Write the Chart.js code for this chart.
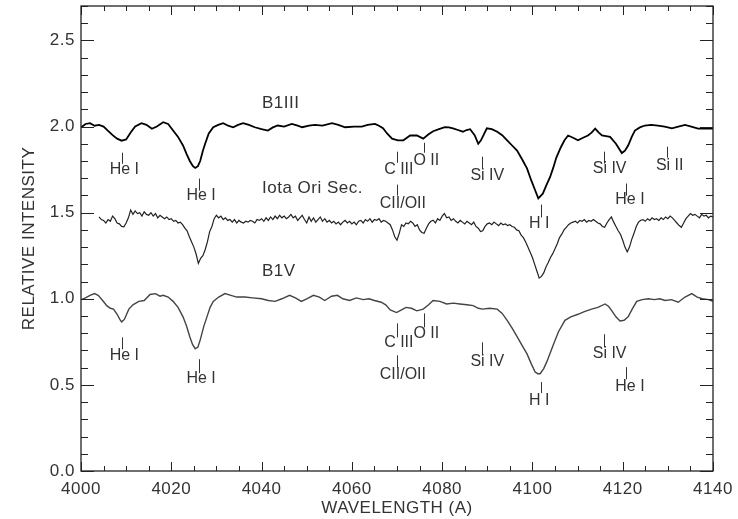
<!DOCTYPE html>
<html><head><meta charset="utf-8">
<script src="https://cdn.jsdelivr.net/npm/chart.js@4.4.0/dist/chart.umd.min.js"></script>
<style>html,body{margin:0;padding:0;background:#fff;}#wrap{width:738px;height:519px;}</style>
</head><body><div id="wrap"><canvas id="c" width="738" height="519"></canvas></div>
<script>
// ---- tick labels ----
const xTickValues = [4000, 4020, 4040, 4060, 4080, 4100, 4120, 4140];
const yTickValues = [0.0, 0.5, 1.0, 1.5, 2.0, 2.5];
const xTitle = 'WAVELENGTH (A)';
const yTitle = 'RELATIVE INTENSITY';

// ---- B1III spectrum ----
const b1iiiWave = [4000.0,4001.0,4002.0,4003.0,4004.0,4005.0,4006.0,4007.0,4008.0,4009.0,4010.0,4011.0,4012.0,4013.4,4014.5,4015.7,4016.8,4018.2,4019.3,4020.4,4021.5,4022.6,4023.4,4024.1,4024.8,4025.3,4025.9,4026.4,4027.0,4027.5,4028.3,4029.3,4030.4,4031.5,4032.6,4033.7,4034.8,4035.9,4037.2,4038.5,4040.0,4041.4,4042.5,4043.6,4045.0,4046.7,4048.0,4049.0,4050.5,4051.8,4053.5,4055.6,4057.0,4058.5,4060.5,4062.2,4063.5,4065.1,4066.0,4066.9,4067.8,4068.9,4070.2,4071.4,4072.2,4072.9,4074.4,4075.8,4077.0,4078.0,4079.3,4080.6,4081.5,4082.4,4083.5,4084.6,4085.4,4086.2,4087.2,4088.0,4088.6,4089.9,4091.0,4092.2,4093.3,4094.4,4095.5,4096.6,4097.7,4098.8,4099.7,4100.6,4101.3,4102.3,4103.1,4103.9,4104.6,4105.3,4106.3,4107.1,4107.9,4109.0,4110.1,4111.2,4112.3,4113.1,4113.9,4114.7,4115.4,4116.3,4117.2,4118.5,4119.8,4120.5,4121.2,4122.0,4122.7,4123.8,4124.9,4126.3,4127.8,4129.3,4130.9,4132.3,4133.8,4135.2,4136.7,4138.2,4140.0];
const b1iiiFlux = [1.995,2.015,2.02,2.005,2.01,2.0,1.975,1.95,1.93,1.918,1.925,1.965,2.0,2.02,2.01,1.987,2.0,2.025,2.015,1.977,1.94,1.89,1.84,1.80,1.77,1.76,1.77,1.80,1.86,1.90,1.96,1.996,2.01,2.02,2.005,1.996,2.01,2.02,2.01,1.996,1.985,1.977,1.995,2.006,2.0,2.015,2.005,1.996,2.005,2.01,2.005,2.02,2.01,1.996,2.0,2.0,2.01,2.015,2.005,1.99,1.96,1.93,1.92,1.92,1.935,1.948,1.948,1.93,1.955,1.973,1.985,1.996,1.995,1.99,1.98,1.97,1.98,1.985,1.95,1.90,1.92,1.99,1.985,1.97,1.95,1.92,1.89,1.86,1.81,1.757,1.69,1.63,1.583,1.61,1.66,1.706,1.76,1.82,1.88,1.92,1.948,1.935,1.92,1.935,1.948,1.965,1.988,1.965,1.948,1.945,1.94,1.90,1.846,1.86,1.89,1.94,1.977,1.995,2.006,2.01,2.006,2.0,1.99,2.0,2.01,2.0,1.988,1.99,1.988];

// ---- Iota Ori Sec. spectrum [wavelength, intensity] ----
const iotaPoints = [[4004.0,1.475],[4004.5,1.46],[4005.0,1.455],[4005.5,1.44],[4006.0,1.46],[4006.5,1.45],[4007.0,1.48],[4007.5,1.465],[4008.0,1.44],[4008.5,1.435],[4009.0,1.42],[4009.5,1.418],[4010.0,1.44],[4010.5,1.47],[4011.0,1.515],[4011.5,1.49],[4012.0,1.51],[4012.5,1.495],[4013.0,1.50],[4013.5,1.48],[4014.0,1.505],[4014.5,1.49],[4015.0,1.485],[4015.5,1.50],[4016.0,1.48],[4016.5,1.495],[4017.0,1.47],[4017.5,1.485],[4018.0,1.475],[4018.5,1.465],[4019.0,1.475],[4019.5,1.46],[4020.0,1.465],[4020.5,1.45],[4021.0,1.455],[4021.5,1.44],[4022.0,1.445],[4022.5,1.43],[4023.0,1.41],[4023.5,1.395],[4024.0,1.36],[4024.5,1.33],[4025.0,1.30],[4025.5,1.26],[4026.0,1.205],[4026.5,1.235],[4027.0,1.25],[4027.5,1.285],[4028.0,1.33],[4028.5,1.39],[4029.0,1.42],[4029.5,1.465],[4030.0,1.485],[4030.5,1.47],[4031.0,1.48],[4031.5,1.46],[4032.0,1.47],[4032.5,1.455],[4033.0,1.46],[4033.5,1.445],[4034.0,1.46],[4034.5,1.44],[4035.0,1.455],[4035.5,1.445],[4036.0,1.44],[4036.5,1.45],[4037.0,1.445],[4037.5,1.455],[4038.0,1.45],[4038.5,1.44],[4039.0,1.46],[4039.5,1.455],[4040.0,1.465],[4040.5,1.45],[4041.0,1.47],[4041.5,1.455],[4042.0,1.475],[4042.5,1.46],[4043.0,1.48],[4043.5,1.465],[4044.0,1.485],[4044.5,1.47],[4045.0,1.48],[4045.5,1.465],[4046.0,1.475],[4046.5,1.49],[4047.0,1.47],[4047.5,1.48],[4048.0,1.455],[4048.5,1.47],[4049.0,1.485],[4049.5,1.46],[4050.0,1.44],[4050.5,1.475],[4051.0,1.45],[4051.5,1.47],[4052.0,1.445],[4052.5,1.46],[4053.0,1.475],[4053.5,1.45],[4054.0,1.465],[4054.5,1.445],[4055.0,1.455],[4055.5,1.44],[4056.0,1.45],[4056.5,1.435],[4057.0,1.445],[4057.5,1.43],[4058.0,1.445],[4058.5,1.455],[4059.0,1.44],[4059.5,1.45],[4060.0,1.435],[4060.5,1.445],[4061.0,1.43],[4061.5,1.45],[4062.0,1.455],[4062.5,1.44],[4063.0,1.46],[4063.5,1.45],[4064.0,1.465],[4064.5,1.445],[4065.0,1.46],[4065.5,1.455],[4066.0,1.465],[4066.5,1.445],[4067.0,1.455],[4067.5,1.45],[4068.0,1.44],[4068.5,1.43],[4069.0,1.40],[4069.5,1.36],[4070.0,1.34],[4070.5,1.38],[4071.0,1.43],[4071.5,1.42],[4072.0,1.44],[4072.5,1.435],[4073.0,1.45],[4073.5,1.44],[4074.0,1.42],[4074.5,1.43],[4075.0,1.40],[4075.5,1.385],[4076.0,1.38],[4076.5,1.41],[4077.0,1.435],[4077.5,1.45],[4078.0,1.456],[4078.5,1.44],[4079.0,1.465],[4079.5,1.455],[4080.0,1.48],[4080.5,1.495],[4081.0,1.47],[4081.5,1.475],[4082.0,1.455],[4082.5,1.465],[4083.0,1.45],[4083.5,1.44],[4084.0,1.455],[4084.5,1.445],[4085.0,1.435],[4085.5,1.45],[4086.0,1.44],[4086.5,1.43],[4087.0,1.445],[4087.5,1.42],[4088.0,1.41],[4088.5,1.39],[4089.0,1.395],[4089.5,1.42],[4090.0,1.435],[4090.5,1.44],[4091.0,1.43],[4091.5,1.445],[4092.0,1.435],[4092.5,1.425],[4093.0,1.44],[4093.5,1.43],[4094.0,1.435],[4094.5,1.425],[4095.0,1.43],[4095.5,1.42],[4096.0,1.415],[4096.5,1.40],[4097.0,1.395],[4097.5,1.37],[4098.0,1.355],[4098.5,1.33],[4099.0,1.30],[4099.5,1.27],[4100.0,1.24],[4100.5,1.20],[4101.0,1.16],[4101.5,1.12],[4102.0,1.13],[4102.5,1.15],[4103.0,1.185],[4103.5,1.21],[4104.0,1.24],[4104.5,1.262],[4105.0,1.29],[4105.5,1.32],[4106.0,1.355],[4106.5,1.375],[4107.0,1.40],[4107.5,1.415],[4108.0,1.43],[4108.5,1.44],[4109.0,1.445],[4109.5,1.45],[4110.0,1.44],[4110.5,1.455],[4111.0,1.45],[4111.5,1.46],[4112.0,1.445],[4112.5,1.455],[4113.0,1.45],[4113.5,1.46],[4114.0,1.45],[4114.5,1.44],[4115.0,1.435],[4115.5,1.42],[4116.0,1.415],[4116.5,1.44],[4117.0,1.46],[4117.5,1.475],[4118.0,1.445],[4118.5,1.42],[4119.0,1.395],[4119.5,1.375],[4120.0,1.34],[4120.5,1.30],[4121.0,1.272],[4121.5,1.30],[4122.0,1.345],[4122.5,1.38],[4123.0,1.42],[4123.5,1.445],[4124.0,1.456],[4124.5,1.46],[4125.0,1.45],[4125.5,1.465],[4126.0,1.455],[4126.5,1.47],[4127.0,1.46],[4127.5,1.465],[4128.0,1.455],[4128.5,1.47],[4129.0,1.46],[4129.5,1.475],[4130.0,1.465],[4130.5,1.48],[4131.0,1.47],[4131.5,1.455],[4132.0,1.44],[4132.5,1.425],[4133.0,1.415],[4133.5,1.44],[4134.0,1.465],[4134.5,1.48],[4135.0,1.495],[4135.5,1.485],[4136.0,1.49],[4136.5,1.48],[4137.0,1.47],[4137.5,1.49],[4138.0,1.48],[4138.5,1.485],[4139.0,1.47],[4139.5,1.48],[4140.0,1.475]];

// ---- B1V spectrum ----
const b1vWave = [4000.0,4001.0,4002.0,4003.0,4003.8,4004.8,4005.7,4006.5,4007.2,4008.0,4008.6,4009.0,4009.6,4010.6,4011.5,4012.8,4014.0,4015.3,4016.5,4017.5,4018.2,4019.3,4020.4,4021.5,4022.6,4023.4,4024.1,4024.7,4025.3,4025.9,4026.4,4027.2,4027.9,4028.6,4029.3,4030.5,4031.9,4033.2,4034.5,4036.3,4038.0,4040.0,4041.5,4043.0,4044.5,4046.2,4047.5,4048.8,4050.0,4051.5,4052.8,4054.0,4055.5,4056.8,4058.0,4059.5,4061.0,4062.5,4063.8,4065.0,4066.5,4067.5,4068.5,4069.9,4071.0,4072.0,4073.2,4074.4,4075.8,4077.0,4078.0,4079.5,4081.0,4082.5,4083.9,4085.5,4086.9,4088.0,4089.0,4090.5,4092.2,4093.3,4094.4,4095.5,4096.6,4097.7,4098.8,4099.7,4100.6,4101.2,4101.7,4102.5,4103.2,4104.0,4104.8,4105.8,4107.2,4108.5,4110.1,4111.5,4113.1,4114.5,4116.1,4116.9,4117.6,4118.5,4119.4,4120.3,4121.2,4122.1,4123.1,4124.3,4125.7,4127.0,4128.2,4129.4,4130.8,4132.3,4133.8,4135.3,4136.5,4137.6,4139.0,4140.0];
const b1vFlux = [0.995,1.005,1.02,1.03,1.02,0.99,0.96,0.945,0.94,0.91,0.88,0.866,0.88,0.94,0.965,0.985,0.99,1.025,1.03,1.015,1.02,1.01,0.985,0.95,0.895,0.84,0.78,0.735,0.71,0.72,0.76,0.84,0.895,0.95,0.985,1.01,1.03,1.02,1.01,1.01,1.005,1.0,0.99,0.985,1.0,1.02,1.005,0.985,1.0,1.02,1.01,0.99,1.015,1.02,1.0,0.99,1.005,0.995,1.0,0.99,0.98,0.965,0.935,0.92,0.935,0.95,0.945,0.93,0.94,0.965,0.99,0.985,0.97,0.975,0.97,0.965,0.96,0.945,0.94,0.945,0.94,0.915,0.875,0.83,0.78,0.73,0.68,0.625,0.575,0.565,0.565,0.595,0.635,0.69,0.745,0.81,0.875,0.895,0.91,0.925,0.94,0.95,0.97,0.955,0.93,0.895,0.871,0.875,0.895,0.94,0.985,0.995,1.0,0.995,1.0,0.99,0.995,0.98,1.01,1.03,1.01,1.0,0.995,0.985];

// ---- series name labels: [text, wavelength of left edge, intensity] ----
const seriesLabels = [['B1III', 4040.1, 2.135], ['Iota Ori Sec.', 4040.1, 1.642], ['B1V', 4040.1, 1.160]];

// ---- line identifications: [text, tick wavelength, tick top, tick bottom, label wavelength, label intensity] ----
const lineIdsB1III = [
  ['He I', 4009.1, 1.848, 1.784, 4009.6, 1.750],
  ['He I', 4026.1, 1.698, 1.628, 4026.6, 1.599],
  ['C III', 4069.9, 1.854, 1.790, 4070.4, 1.750],
  ['O II', 4076.0, 1.906, 1.848, 4076.5, 1.802],
  ['CII/OII', 4069.9, 1.663, 1.599, 4071.3, 1.553],
  ['Si IV', 4088.8, 1.825, 1.755, 4090.0, 1.715],
  ['H I', 4101.8, 1.547, 1.472, 4101.5, 1.437],
  ['Si IV', 4115.9, 1.854, 1.785, 4117.1, 1.756],
  ['He I', 4120.7, 1.669, 1.599, 4121.6, 1.576],
  ['Si II', 4129.8, 1.883, 1.819, 4130.4, 1.773]
];
const lineIdsB1V = [
  ['He I', 4009.1, 0.776, 0.707, 4009.6, 0.672],
  ['He I', 4026.1, 0.649, 0.568, 4026.6, 0.539],
  ['C III', 4069.9, 0.857, 0.776, 4070.4, 0.747],
  ['O II', 4076.0, 0.915, 0.834, 4076.5, 0.800],
  ['CII/OII', 4069.9, 0.672, 0.597, 4071.3, 0.562],
  ['Si IV', 4088.8, 0.747, 0.672, 4090.0, 0.637],
  ['H I', 4101.8, 0.516, 0.452, 4101.5, 0.406],
  ['Si IV', 4115.9, 0.794, 0.718, 4117.1, 0.684],
  ['He I', 4120.7, 0.603, 0.533, 4121.6, 0.492]
];

const FONT = "'Liberation Sans', Arial, Helvetica, sans-serif";
const TXT = '#333';

const toXY = (w, f) => w.map((x, i) => ({x, y: f[i]}));

const framePlugin = {
  id: 'frame',
  beforeDraw(chart) { chart.ctx.letterSpacing = '0.5px'; },
  afterDatasetsDraw(chart) {
    const {ctx, scales: {x, y}} = chart;
    ctx.save();
    ctx.letterSpacing = '0px';
    ctx.fillStyle = TXT;
    ctx.strokeStyle = '#333';
    ctx.lineWidth = 1;
    ctx.font = '16px ' + FONT;
    ctx.textAlign = 'center';
    ctx.textBaseline = 'middle';
    [...lineIdsB1III, ...lineIdsB1V].forEach(([t, tw, t1, t2, lw, lv]) => {
      const px = Math.round(x.getPixelForValue(tw)) + 0.5;
      ctx.beginPath();
      ctx.moveTo(px, y.getPixelForValue(t1));
      ctx.lineTo(px, y.getPixelForValue(t2));
      ctx.stroke();
      ctx.fillText(t, x.getPixelForValue(lw), y.getPixelForValue(lv));
    });
    ctx.font = '17px ' + FONT;
    ctx.letterSpacing = '0.5px';
    ctx.textAlign = 'left';
    seriesLabels.forEach(([t, w, v]) => ctx.fillText(t, x.getPixelForValue(w), y.getPixelForValue(v)));
    ctx.restore();
  },
  afterDraw(chart) {
    const {ctx, chartArea: a, scales: {x, y}} = chart;
    ctx.save();
    ctx.strokeStyle = '#222';
    ctx.lineWidth = 1.3;
    ctx.strokeRect(a.left, a.top, a.right - a.left, a.bottom - a.top);
    ctx.lineWidth = 1;
    ctx.beginPath();
    const nx = Math.round((x.max - x.min) / 5);
    for (let i = 0; i <= nx; i++) {
      const v = x.min + i * 5;
      const px = Math.round(x.getPixelForValue(v)) + 0.5;
      const L = (i % 4 === 0) ? 9 : 5;
      ctx.moveTo(px, a.bottom); ctx.lineTo(px, a.bottom - L);
      ctx.moveTo(px, a.top); ctx.lineTo(px, a.top + L);
    }
    const ny = Math.round((y.max - y.min) / 0.1);
    for (let i = 0; i <= ny; i++) {
      const v = y.min + i * 0.1;
      const py = Math.round(y.getPixelForValue(v)) + 0.5;
      const L = (i % 5 === 0) ? 13 : 7;
      ctx.moveTo(a.left, py); ctx.lineTo(a.left + L, py);
      ctx.moveTo(a.right, py); ctx.lineTo(a.right - L, py);
    }
    ctx.stroke();
    ctx.restore();
  }
};

new Chart(document.getElementById('c'), {
  type: 'line',
  data: {
    datasets: [
      {label: 'B1III', data: toXY(b1iiiWave, b1iiiFlux), borderColor: '#000', borderWidth: 1.8},
      {label: 'Iota Ori Sec.', data: iotaPoints.map(([x, v]) => ({x, y: v})), borderColor: '#222', borderWidth: 1.2},
      {label: 'B1V', data: toXY(b1vWave, b1vFlux), borderColor: '#444', borderWidth: 1.4}
    ]
  },
  options: {
    responsive: false,
    devicePixelRatio: 1,
    animation: false,
    elements: {point: {radius: 0}, line: {tension: 0, fill: false}},
    layout: {padding: {top: 6, right: 25, left: 0, bottom: 0}},
    plugins: {legend: {display: false}, tooltip: {enabled: false}},
    scales: {
      x: {
        type: 'linear', min: 4000, max: 4140,
        afterBuildTicks: s => { s.ticks = xTickValues.map(v => ({value: v})); },
        afterFit: s => { s.height = 48; s.paddingLeft = 0; s.paddingRight = 0; },
        grid: {display: false, drawTicks: false},
        border: {display: false},
        ticks: {color: TXT, font: {family: FONT, size: 17}, padding: 8, maxRotation: 0, autoSkip: false, callback: v => String(v)},
        title: {display: true, text: xTitle, color: TXT, font: {family: FONT, size: 17}, padding: {top: 0, bottom: 0}}
      },
      y: {
        type: 'linear', min: 0, max: 2.7,
        afterBuildTicks: s => { s.ticks = yTickValues.map(v => ({value: v})); },
        afterFit: s => { s.width = 81; s.paddingTop = 0; s.paddingBottom = 0; },
        grid: {display: false, drawTicks: false},
        border: {display: false},
        ticks: {color: TXT, font: {family: FONT, size: 17}, padding: 6, autoSkip: false, callback: v => v.toFixed(1)},
        title: {display: true, text: yTitle, color: TXT, font: {family: FONT, size: 17}, padding: {top: 19, bottom: 0}}
      }
    }
  },
  plugins: [framePlugin]
});
</script>
</body></html>
